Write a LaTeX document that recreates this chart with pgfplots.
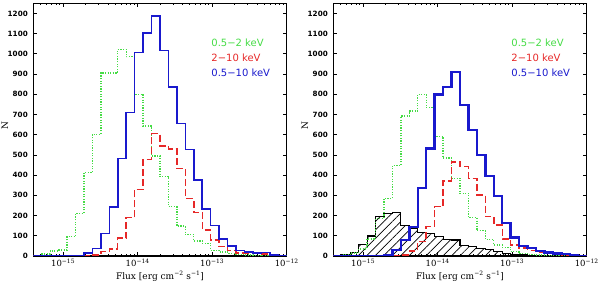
\documentclass[border=0pt]{standalone}
\usepackage{fontspec}
\setmainfont{DejaVu Serif}
\newfontfamily\dvs{DejaVu Sans}
\usepackage{pgfplots}
\usepackage{pgfplotstable}
\pgfplotsset{compat=1.18}
\usetikzlibrary{patterns.meta}

\definecolor{hgreen}{RGB}{70,220,70}
\definecolor{hred}{RGB}{230,40,40}
\definecolor{hblue}{RGB}{25,25,205}

% left edges of log10(flux) bins; last row closes the final bin
\pgfplotstableread{
x g r b
-15.400 0 0 0
-15.287 10 0 0
-15.173 25 0 0
-15.060 30 0 0
-14.947 95 0 0
-14.833 211 0 0
-14.720 412 0 15
-14.607 602 5 37
-14.493 906 22 112
-14.380 906 35 242
-14.267 1022 88 482
-14.153 986 190 710
-14.040 800 330 1006
-13.927 643 478 1102
-13.813 495 605 1187
-13.700 392 545 1017
-13.587 244 529 836
-13.473 148 433 656
-13.360 105 285 526
-13.247 75 216 375
-13.133 63 128 231
-13.020 28 79 150
-12.907 20 46 83
-12.793 12 26 50
-12.680 8 15 27
-12.567 5 15 20
-12.453 3 12 15
-12.340 0 10 17
-12.227 0 0 5
-12.113 0 0 0
-12.000 0 0 0
}\lefttab

\pgfplotstableread{
x g r b h
-15.400 0 0 0 3
-15.287 5 0 0 5
-15.173 15 0 0 18
-15.060 35 0 0 56
-14.947 85 0 0 99
-14.833 185 0 0 195
-14.720 285 0 5 211
-14.607 447 0 30 214
-14.493 692 5 80 152
-14.380 717 25 142 137
-14.267 800 71 336 118
-14.153 735 145 532 112
-14.040 592 244 799 96
-13.927 485 372 837 82
-13.813 384 466 911 79
-13.700 310 442 746 54
-13.587 190 384 623 46
-13.473 125 302 500 38
-13.360 82 195 397 30
-13.247 54 153 297 21
-13.133 43 85 164 13
-13.020 21 55 92 8
-12.907 13 40 50 5
-12.793 8 28 40 3
-12.680 5 18 25 0
-12.567 3 12 18 0
-12.453 0 8 12 0
-12.340 0 5 10 0
-12.227 0 0 3 0
-12.113 0 0 0 0
-12.000 0 0 0 0
}\righttab

\tikzset{legtxt/.style={anchor=west, font=\dvs\fontsize{10}{12}\selectfont}}

\pgfplotsset{
  panel/.style={
    scale only axis, width=253.4pt, height=252.7pt, anchor=south west,
    xmin=-15.4, xmax=-12, ymin=0, ymax=1250,
    xtick={-15,-14,-13,-12},
    xticklabels={10\textsuperscript{−15},10\textsuperscript{−14},10\textsuperscript{−13},10\textsuperscript{−12}},
    minor xtick={-15.301,-15.222,-15.155,-15.097,-15.046,
      -14.699,-14.523,-14.398,-14.301,-14.222,-14.155,-14.097,-14.046,
      -13.699,-13.523,-13.398,-13.301,-13.222,-13.155,-13.097,-13.046,
      -12.699,-12.523,-12.398,-12.301,-12.222,-12.155,-12.097,-12.046},
    ytick={0,100,...,1200},
    scaled y ticks=false,
    /pgf/number format/1000 sep={},
    /pgf/number format/assume math mode=true,
    tick align=inside,
    major tick length=4pt, minor tick length=2.2pt,
    axis line style={line width=1.2pt},
    every tick/.style={black, line width=0.7pt},
    yticklabel style={font=\dvs\bfseries\fontsize{7.2}{8}\selectfont, xshift=-2pt},
    xticklabel style={font=\fontsize{8.5}{10}\selectfont},
    xlabel={Flux [erg cm\textsuperscript{−2} s\textsuperscript{−1}]},
    xlabel style={font=\fontsize{9}{10}\selectfont, at={(axis description cs:0.5,-0.08)}, anchor=center},
    ylabel={N},
    ylabel style={font=\fontsize{9}{10}\selectfont, at={(axis description cs:-0.112,0.518)}, anchor=center},
  },
  gstyle/.style={const plot, draw=hgreen, line width=1.4pt, dash pattern=on 1.2pt off 1.4pt},
  rstyle/.style={const plot, draw=hred, line width=1.5pt, dash pattern=on 7pt off 3pt},
  bstyle/.style={const plot, draw=hblue, line width=1.6pt},
}

\begin{document}
\begin{tikzpicture}
\path[use as bounding box] (0,0) rectangle (600pt,283pt);

\begin{axis}[panel, at={(33.3pt,27pt)}]
  \addplot[gstyle] table[x=x,y=g] {\lefttab};
  \addplot[rstyle] table[x=x,y=r] {\lefttab};
  % blue histogram outline written out as explicit steps
  \addplot[draw=hblue, line width=1.6pt] coordinates {
    (-15.4,0) (-14.720,0) (-14.720,15) (-14.607,15) (-14.607,37)
    (-14.493,37) (-14.493,112) (-14.380,112) (-14.380,242)
    (-14.267,242) (-14.267,482) (-14.153,482) (-14.153,710)
    (-14.040,710) (-14.040,1006) (-13.927,1006) (-13.927,1102)
    (-13.813,1102) (-13.813,1187) (-13.700,1187) (-13.700,1017)
    (-13.587,1017) (-13.587,836) (-13.473,836) (-13.473,656)
    (-13.360,656) (-13.360,526) (-13.247,526) (-13.247,375)
    (-13.133,375) (-13.133,231) (-13.020,231) (-13.020,150)
    (-12.907,150) (-12.907,83) (-12.793,83) (-12.793,50)
    (-12.680,50) (-12.680,27) (-12.567,27) (-12.567,20)
    (-12.453,20) (-12.453,15) (-12.340,15) (-12.340,17)
    (-12.227,17) (-12.227,5) (-12.113,5) (-12.113,0) (-12.0,0)};
  \node[legtxt, text=hgreen] at (rel axis cs:0.689,0.843) {0.5−2 keV};
  \node[legtxt, text=hred] at (rel axis cs:0.689,0.784) {2−10 keV};
  \node[legtxt, text=hblue] at (rel axis cs:0.689,0.724) {0.5−10 keV};
\end{axis}

\begin{axis}[panel, at={(333.3pt,27pt)}]
  \addplot[const plot, draw=black, line width=1.1pt,
    pattern={Lines[angle=45,distance=6pt,line width=0.7pt]}, pattern color=black]
    table[x=x,y=h] {\righttab} \closedcycle;
  \addplot[gstyle] table[x=x,y=g] {\righttab};
  \addplot[rstyle] table[x=x,y=r] {\righttab};
  \addplot[bstyle, line width=2.4pt] table[x=x,y=b] {\righttab};
  \node[legtxt, text=hgreen] at (rel axis cs:0.689,0.843) {0.5−2 keV};
  \node[legtxt, text=hred] at (rel axis cs:0.689,0.784) {2−10 keV};
  \node[legtxt, text=hblue] at (rel axis cs:0.689,0.724) {0.5−10 keV};
\end{axis}
\end{tikzpicture}
\end{document}
